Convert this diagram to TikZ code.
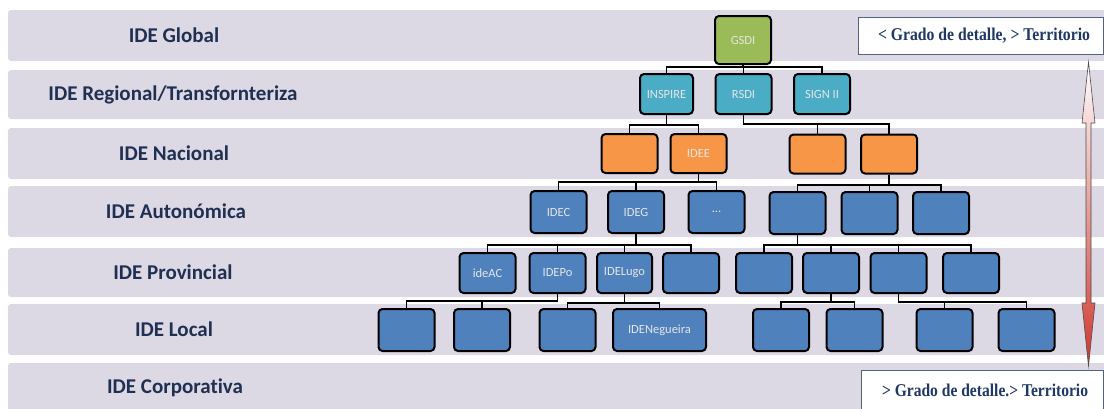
\documentclass[tikz,border=0pt]{standalone}
\usepackage{fontspec}
\usepackage{graphicx}
\setmainfont[Ligatures=NoCommon]{Carlito}
\newfontfamily\serifx{Liberation Serif}
\definecolor{bandc}{RGB}{220,216,228}
\definecolor{labelc}{RGB}{31,48,82}
\definecolor{greenc}{RGB}{155,187,89}
\definecolor{tealc}{RGB}{75,172,198}
\definecolor{orangec}{RGB}{247,150,70}
\definecolor{bluec}{RGB}{79,129,189}
\definecolor{serifc}{RGB}{31,56,100}
\definecolor{boxborder}{RGB}{79,98,130}
\definecolor{arrowred}{RGB}{205,55,45}
\definecolor{arrowpink}{RGB}{245,215,215}
\newcommand{\conn}[3]{\foreach \c in {#3}{\draw[connline] (#1.south) -- (#1.south |- 0,#2) -| (\c.north);}}
\begin{document}
\begin{tikzpicture}[x=1pt,y=-1pt,
  band/.style={fill=bandc, rounded corners=3pt},
  lvl/.style={font=\fontsize{21}{24}\selectfont\bfseries, text=labelc, anchor=center, inner sep=0pt},
  org/.style={draw=black, line width=2pt, rounded corners=4pt, minimum width=56pt, inner sep=1pt, text=white!90!black, font=\fontsize{12.5}{14}\selectfont},
  gr/.style={org, fill=greenc, minimum height=48pt},
  te/.style={org, fill=tealc, minimum height=40pt},
  orr/.style={org, fill=orangec, minimum height=39pt},
  bl/.style={org, fill=bluec, minimum height=42pt},
  blp/.style={org, fill=bluec, minimum height=40pt},
  connline/.style={draw=black, line width=1.8pt},
  notebox/.style={draw=boxborder, line width=0.8pt, fill=white},
  notetext/.style={font=\serifx\bfseries\fontsize{18}{20}\selectfont, text=serifc, inner sep=0pt}]
\useasboundingbox (0,0) rectangle (1104,408);
\clip (0,0) rectangle (1104,408);
\fill[white] (0,0) rectangle (1104,408);
% bands
\fill[band] (8,10) rectangle (1120,61);
\fill[band] (8,70) rectangle (1120,119);
\fill[band] (8,128) rectangle (1120,179);
\fill[band] (8,186) rectangle (1120,237);
\fill[band] (8,248) rectangle (1120,297);
\fill[band] (8,304) rectangle (1120,355);
\fill[band] (8,363) rectangle (1120,430);
% level labels
\node[lvl] (l1) at (174,35.5) {IDE Global};
\node[lvl] (l2) at (173,94.5) {IDE Regional/Transfornteriza};
\node[lvl] (l3) at (174,153.5) {IDE Nacional};
\node[lvl] (l4) at (176,211.5) {IDE Autonómica};
\node[lvl] (l5) at (173,272.5) {IDE Provincial};
\node[lvl] (l6) at (174,329.5) {IDE Local};
\node[lvl] (l7) at (175,388) {IDE Corporativa};
% row 1
\node[gr] (gsdi) at (743,40) {GSDI};
% row 2
\node[te, minimum width=53pt] (inspire) at (666.5,94) {INSPIRE};
\node[te] (rsdi) at (743.5,94) {RSDI};
\node[te] (signii) at (822,94) {SIGN II};
% row 3
\node[orr] (o1) at (629.5,153.5) {};
\node[orr] (idee) at (698.5,153.5) {IDEE};
\node[orr] (o3) at (817.5,154) {};
\node[orr] (o4) at (889,154) {};
% row 4
\node[bl] (idec) at (558.5,212) {IDEC};
\node[bl] (ideg) at (636,212) {IDEG};
\node[bl] (dots) at (716.5,212) {...};
\node[bl] (a1) at (797.5,213) {};
\node[bl] (a2) at (869.5,213) {};
\node[bl] (a3) at (941,213) {};
% row 5
\node[blp] (ideac) at (487.5,273) {ideAC};
\node[blp] (idepo) at (557.5,273) {IDEPo};
\node[blp, minimum width=55pt] (idelugo) at (624.5,273) {IDELugo};
\node[blp] (p4) at (691,273) {};
\node[blp] (p5) at (764,273) {};
\node[blp] (p6) at (831,273) {};
\node[blp] (p7) at (898.5,273) {};
\node[blp] (p8) at (971,273) {};
% row 6
\node[bl] (c1) at (406.5,330) {};
\node[bl] (c2) at (482,330) {};
\node[bl] (c3) at (567.5,330) {};
\node[bl, minimum width=93pt] (neg) at (659.5,330) {IDENegueira};
\node[bl] (c5) at (781,330) {};
\node[bl] (c6) at (854.5,330) {};
\node[bl] (c7) at (944.5,330) {};
\node[bl] (c8) at (1026.5,330) {};
% connectors
\conn{gsdi}{67}{inspire,rsdi,signii}
\conn{inspire}{125}{o1,idee}
\conn{rsdi}{124}{o3,o4}
\conn{idee}{182}{idec,ideg,dots}
\conn{o4}{185}{a1,a2,a3}
\conn{ideg}{245}{ideac,idepo,idelugo,p4}
\conn{a1}{245}{p5,p6,p7,p8}
\conn{idepo}{301}{c1,c2}
\conn{idelugo}{303}{c3,neg}
\conn{p6}{302}{c5,c6}
\conn{p7}{302}{c7,c8}
% note boxes
\draw[notebox] (858,17) rectangle (1103.5,54);
\node[notetext] (top) at (984,35.5) {\resizebox{212pt}{\height}{< Grado de detalle, > Territorio}};
\draw[notebox] (861,370) rectangle (1103.5,420);
\node[notetext] (bot) at (985,390) {\resizebox{206pt}{\height}{> Grado de detalle.> Territorio}};
% double arrow
\shadedraw[draw=black!70, line width=0.6pt, top color=white, middle color=arrowpink, bottom color=arrowred]
  (1088.5,62) -- (1095,123) -- (1091,123) -- (1091,303) -- (1095,303) -- (1088.5,366)
  -- (1082,303) -- (1086,303) -- (1086,123) -- (1082,123) -- cycle;
\end{tikzpicture}
\end{document}
